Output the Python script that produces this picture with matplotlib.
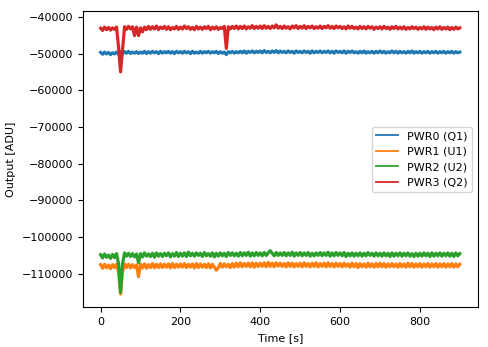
import numpy as np
import matplotlib
matplotlib.use("Agg")
import matplotlib.pyplot as plt

# ==========================================
# DATA (one sample every 5 s)
# ==========================================

labels = ["PWR0 (Q1)", "PWR1 (U1)", "PWR2 (U2)", "PWR3 (Q2)"]
colors = ["#1f77b4", "#ff7f0e", "#2ca02c", "#d62728"]

pwr0 = [
    -49700, -50200, -49600, -50100, -49700, -50300, -49800, -50100, -49600, -50200,
    -49500, -50000, -49500, -49900, -49400, -50000, -49600, -49900, -49500, -50000,
    -49600, -49900, -49400, -50000, -49500, -49900, -49400, -49800, -49500, -50000,
    -49400, -49900, -49500, -49800, -49400, -49900, -49500, -50000, -49400, -49800,
    -49500, -49900, -49400, -49800, -49500, -50000, -49400, -49900, -49600, -49900,
    -49400, -49900, -49500, -49800, -49400, -49900, -49500, -49800, -49400, -50000,
    -49500, -49900, -49600, -50300, -49500, -49800, -49400, -49900, -49500, -49800,
    -49400, -49800, -49300, -49900, -49400, -49700, -49300, -49800, -49400, -49700,
    -49300, -49800, -49200, -49700, -49400, -49800, -49300, -49700, -49200, -49800,
    -49300, -49700, -49400, -49800, -49300, -49700, -49400, -49900, -49300, -49700,
    -49400, -49800, -49300, -49700, -49400, -49900, -49300, -49800, -49400, -49700,
    -49300, -49800, -49400, -49700, -49300, -49800, -49400, -49900, -49300, -49700,
    -49400, -49800, -49300, -49900, -49400, -49700, -49300, -49800, -49500, -49900,
    -49400, -49800, -49300, -49900, -49500, -49800, -49400, -49900, -49400, -49800,
    -49300, -49800, -49400, -49900, -49500, -49800, -49300, -49800, -49400, -49900,
    -49400, -49800, -49500, -49900, -49400, -49800, -49300, -49900, -49500, -49800,
    -49400, -49900, -49500, -49800, -49400, -49900, -49500, -49800, -49400, -49900,
    -49500, -49800, -49400, -49900, -49500, -49800, -49400, -49900, -49500, -49800,
    -49600,
]

pwr1 = [
    -107500, -108500, -107400, -108400, -107600, -108600, -107500, -108300, -107400, -109500,
    -115500, -109300, -107300, -108300, -107400, -108400, -107500, -108300, -107600, -110800,
    -107400, -108400, -107300, -108500, -107500, -108300, -107200, -108400, -107400, -108300,
    -107300, -108300, -107400, -108200, -107300, -108400, -107200, -108300, -107400, -108200,
    -107300, -108200, -107200, -108300, -107400, -108200, -107300, -108400, -107200, -108300,
    -107300, -108200, -107400, -108300, -107300, -108400, -107400, -108200, -109000, -108300,
    -107200, -108200, -107300, -108100, -107400, -108300, -107200, -108200, -107100, -108100,
    -107000, -108100, -107200, -108000, -107100, -108100, -107000, -108200, -107100, -108000,
    -107100, -108000, -107000, -108100, -106900, -108000, -107100, -108100, -107000, -107900,
    -107100, -108000, -107200, -108100, -107000, -108000, -107100, -108100, -107200, -108000,
    -107100, -108100, -107000, -108000, -107200, -108100, -107100, -108000, -107000, -108100,
    -107200, -108000, -107100, -108100, -107000, -108000, -107200, -108100, -107100, -108000,
    -107200, -108100, -107100, -108000, -107300, -108200, -107100, -108100, -107200, -108300,
    -107200, -108100, -107300, -108200, -107100, -108100, -107300, -108200, -107200, -108100,
    -107100, -108100, -107200, -108200, -107300, -108100, -107200, -108100, -107300, -108200,
    -107200, -108100, -107300, -108200, -107100, -108100, -107200, -108200, -107300, -108100,
    -107200, -108200, -107300, -108100, -107200, -108200, -107300, -108100, -107200, -108200,
    -107300, -108100, -107200, -108200, -107300, -108100, -107200, -108200, -107300, -108100,
    -107400,
]

pwr2 = [
    -104800, -105700, -104600, -105500, -104900, -105800, -104700, -105600, -104500, -107300,
    -115000, -107200, -104300, -105200, -104400, -105300, -104500, -105400, -104600, -107000,
    -104500, -105400, -104300, -105200, -104600, -105300, -104400, -105500, -104300, -105200,
    -104500, -105300, -104400, -105100, -104300, -105400, -104500, -105200, -104200, -105300,
    -104400, -105200, -104300, -105300, -104100, -105100, -104400, -105200, -104300, -105000,
    -104400, -105300, -104200, -105100, -104500, -105200, -104300, -105400, -104400, -105200,
    -104300, -105100, -104400, -105300, -104200, -105000, -104300, -105100, -104400, -105200,
    -104200, -105100, -104300, -105000, -104100, -105200, -104300, -105100, -104200, -105000,
    -104300, -105100, -104200, -105000, -104300, -103700, -104400, -105100, -104200, -105000,
    -104300, -105000, -104200, -105100, -104300, -105000, -104100, -105200, -104300, -105000,
    -104200, -105100, -104300, -105000, -104200, -105200, -104400, -105100, -104300, -105000,
    -104200, -105100, -104300, -105000, -104100, -105200, -104300, -105100, -104200, -105000,
    -104300, -105100, -104200, -105300, -104400, -105100, -104300, -105200, -104400, -105100,
    -104300, -105200, -104400, -105100, -104200, -105000, -104400, -105200, -104300, -105100,
    -104400, -105200, -104300, -105100, -104400, -105300, -104300, -105200, -104400, -105100,
    -104300, -105200, -104400, -105100, -104300, -105200, -104500, -105300, -104400, -105200,
    -104400, -105200, -104300, -105100, -104400, -105300, -104300, -105200, -104400, -105100,
    -104300, -105200, -104400, -105100, -104300, -105200, -104400, -105300, -104300, -105100,
    -104500,
]

pwr3 = [
    -43100, -43700, -42800, -43500, -42900, -43600, -43000, -43400, -42800, -48300,
    -55000, -48800, -42700, -43400, -42600, -43300, -42700, -45100, -42800, -45100,
    -43000, -44100, -42800, -43500, -42600, -43400, -42700, -43300, -42500, -43500,
    -42800, -43200, -42600, -43400, -42700, -43500, -42900, -43300, -42600, -43400,
    -42800, -43300, -42500, -43200, -42700, -43400, -42900, -43500, -42600, -43300,
    -42800, -43400, -42700, -43200, -42600, -43500, -42800, -43300, -42700, -43400,
    -42900, -43200, -42600, -48600, -42700, -43300, -42600, -43200, -42500, -43300,
    -42600, -43200, -42500, -43300, -42700, -43100, -42400, -43200, -42600, -43100,
    -42500, -43200, -42400, -43100, -42600, -43200, -42500, -43000, -42200, -43100,
    -42600, -43200, -42500, -43100, -42700, -43300, -42500, -43000, -42400, -43200,
    -42600, -43100, -42400, -43200, -42600, -43000, -42500, -43200, -42700, -43100,
    -42500, -43200, -42600, -43000, -42400, -43100, -42600, -43200, -42500, -43000,
    -42600, -43200, -42700, -43300, -42500, -43100, -42600, -43200, -42800, -43300,
    -42600, -43200, -42700, -43300, -42600, -43100, -42700, -43400, -42800, -43200,
    -42700, -43300, -42600, -43200, -42800, -43400, -42700, -43200, -42600, -43300,
    -42800, -43300, -42700, -43400, -42900, -43300, -42700, -43200, -42800, -43400,
    -42900, -43300, -42700, -43400, -42800, -43300, -42900, -43500, -42800, -43300,
    -42700, -43400, -42900, -43300, -42800, -43500, -42900, -43400, -42800, -43300,
    -43000,
]

series = [pwr0, pwr1, pwr2, pwr3]

# ==========================================
# PLOT
# ==========================================

plt.rcParams["font.size"] = 8

fig, ax = plt.subplots(figsize=(4.89, 3.47), dpi=100)
fig.subplots_adjust(left=0.169, right=0.977, bottom=0.114, top=0.967)

for vals, lab, col in zip(series, labels, colors):
    t = np.linspace(0, 900, len(vals))
    ax.plot(t, vals, color=col, linewidth=2.3, label=lab)

ax.set_xlabel("Time [s]")
ax.set_ylabel("Output [ADU]")
leg = ax.legend(loc="center right")
for h in leg.get_lines():
    h.set_linewidth(1.3)

fig.savefig("out.png", dpi=100)
